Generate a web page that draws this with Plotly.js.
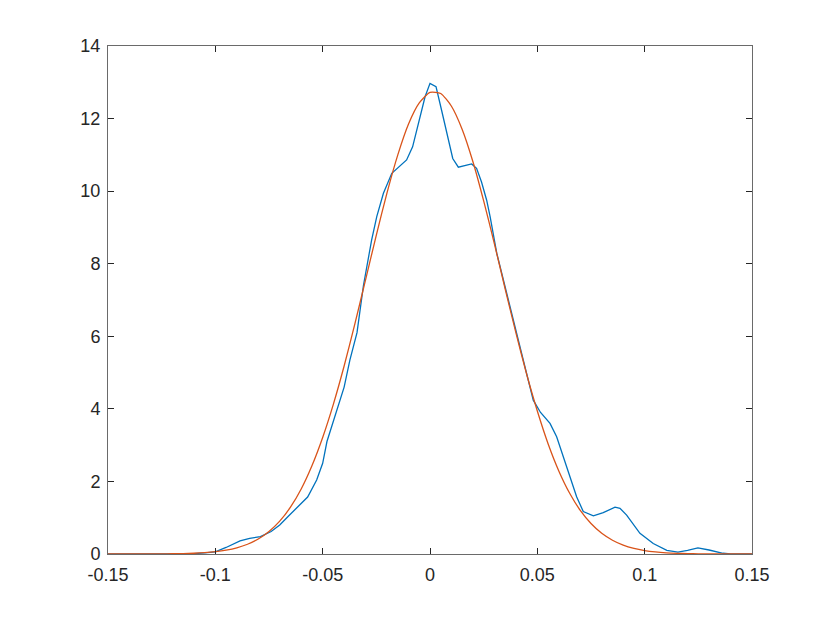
<!DOCTYPE html>
<html>
<head>
<meta charset="utf-8">
<script src="https://cdn.plot.ly/plotly-3.0.1.min.js"></script>
<style>
  body { margin: 0; background: #fff; }
  #densityPlot { width: 830px; height: 623px; }
</style>
</head>
<body>
<div id="densityPlot"></div>
<script>
// kernel density estimate (blue)
const kdeX = [-0.15, -0.12, -0.11, -0.105, -0.1, -0.095, -0.0885, -0.084, -0.079, -0.074,
    -0.07, -0.066, -0.062, -0.057, -0.0528, -0.05, -0.048, -0.0433, -0.04, -0.0373,
    -0.034, -0.031, -0.0272, -0.0248, -0.0217, -0.0178, -0.0148, -0.0109, -0.0081, -0.0054,
    -0.0023, 0, 0.0028, 0.0054, 0.0078, 0.0106, 0.0132, 0.0194, 0.0217, 0.024,
    0.0264, 0.028, 0.0311, 0.0373, 0.0435, 0.0481, 0.0515, 0.0559, 0.059, 0.0637,
    0.0683, 0.0714, 0.0761, 0.0807, 0.0862, 0.0885, 0.0916, 0.0978, 0.104, 0.1103,
    0.1155, 0.12, 0.1248, 0.13, 0.1365, 0.14, 0.15];
const kdeY = [0, 0, 0.01, 0.03, 0.06, 0.18, 0.36, 0.43, 0.48, 0.62,
    0.8, 1.04, 1.27, 1.57, 2.04, 2.5, 3.1, 4.0, 4.6, 5.35,
    6.1, 7.4, 8.65, 9.3, 9.94, 10.49, 10.66, 10.86, 11.22, 11.87,
    12.6, 12.97, 12.88, 12.23, 11.59, 10.9, 10.66, 10.75, 10.63, 10.25,
    9.75, 9.3, 8.29, 6.81, 5.35, 4.24, 3.9, 3.6, 3.23, 2.41,
    1.58, 1.17, 1.05, 1.14, 1.29, 1.26, 1.07, 0.57, 0.29, 0.1,
    0.05, 0.1, 0.17, 0.11, 0.02, 0, 0];

// fitted normal curve (red)
const fitX = [-0.15, -0.145, -0.14, -0.135, -0.13, -0.125, -0.12, -0.115, -0.11, -0.105,
    -0.1, -0.095, -0.09, -0.085, -0.08, -0.075, -0.07, -0.065, -0.06, -0.055,
    -0.05, -0.045, -0.04, -0.035, -0.03, -0.025, -0.02, -0.015, -0.01, -0.005,
    0, 0.005, 0.01, 0.015, 0.02, 0.025, 0.03, 0.035, 0.04, 0.045,
    0.05, 0.055, 0.06, 0.065, 0.07, 0.075, 0.08, 0.085, 0.09, 0.095,
    0.1, 0.105, 0.11, 0.115, 0.12, 0.125, 0.13, 0.135, 0.14, 0.145, 0.15];
const fitY = [0.0001, 0.0002, 0.0004, 0.0009, 0.0018, 0.0034, 0.0064, 0.012, 0.021, 0.037,
    0.063, 0.105, 0.17, 0.269, 0.413, 0.62, 0.905, 1.29, 1.79, 2.43,
    3.21, 4.13, 5.18, 6.34, 7.56, 8.79, 9.96, 11.0, 11.85, 12.43,
    12.72, 12.69, 12.34, 11.7, 10.81, 9.73, 8.55, 7.31, 6.1, 4.96,
    3.94, 3.04, 2.29, 1.68, 1.2, 0.84, 0.57, 0.38, 0.245, 0.154,
    0.095, 0.057, 0.033, 0.019, 0.0105, 0.0056, 0.003, 0.0015, 0.0007, 0.0003, 0.0002];

const xTicks = [-0.15, -0.1, -0.05, 0, 0.05, 0.1, 0.15];
const xTickText = ['-0.15', '-0.1', '-0.05', '0', '0.05', '0.1', '0.15'];
const yTicks = [0, 2, 4, 6, 8, 10, 12, 14];

var kdeTrace = {
    x: kdeX,
    y: kdeY,
    type: 'scatter',
    mode: 'lines',
    line: { color: '#0072BD', width: 1.3 },
    hoverinfo: 'none'
};

var fitTrace = {
    x: fitX,
    y: fitY,
    type: 'scatter',
    mode: 'lines',
    line: { color: '#D95319', width: 1.3, shape: 'spline', smoothing: 0.6 },
    hoverinfo: 'none'
};

var axisStyle = {
    showline: true,
    mirror: 'ticks',
    linecolor: '#6a6a6a',
    linewidth: 1,
    ticks: 'inside',
    ticklen: 6,
    tickcolor: '#262626',
    showgrid: false,
    zeroline: false,
    tickfont: { family: 'Liberation Sans, Arial, sans-serif', size: 18, color: '#262626' }
};

var layout = {
    width: 830,
    height: 623,
    showlegend: false,
    paper_bgcolor: '#ffffff',
    plot_bgcolor: '#ffffff',
    margin: { l: 108, r: 78, t: 46, b: 69 },
    xaxis: Object.assign({}, axisStyle, {
        range: [-0.15, 0.15],
        tickvals: xTicks,
        ticktext: xTickText,
        ticklabelstandoff: 4
    }),
    yaxis: Object.assign({}, axisStyle, {
        range: [0, 14],
        tickvals: yTicks,
        ticktext: yTicks.map(String),
        ticklabelstandoff: 3
    })
};

Plotly.newPlot('densityPlot', [kdeTrace, fitTrace], layout, { staticPlot: true });
</script>
</body>
</html>
